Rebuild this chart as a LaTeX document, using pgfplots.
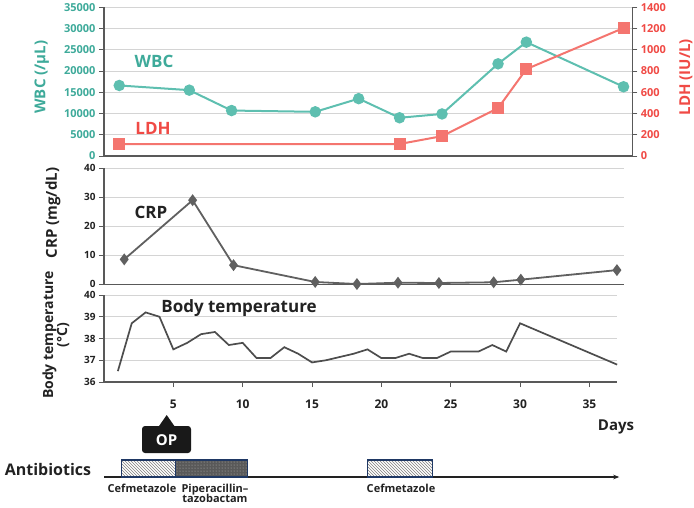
\documentclass[border=0pt]{standalone}
\usepackage{fontspec}
\setmainfont{Open Sans}
\usepackage{pgfplots}
\pgfplotsset{compat=1.18}
\usetikzlibrary{patterns,arrows.meta}
\definecolor{wbc}{HTML}{5EBFB0}
\definecolor{wbctxt}{HTML}{3EAA9A}
\definecolor{ldh}{HTML}{F4756F}
\definecolor{ldhtxt}{HTML}{F04A45}
\definecolor{axgray}{HTML}{595959}
\definecolor{gridc}{HTML}{D4D4D4}
\definecolor{crpc}{HTML}{606060}
\definecolor{tempc}{HTML}{4D4D4D}
\definecolor{navy}{HTML}{1F3864}
\definecolor{txt}{HTML}{222222}
\newcommand{\fs}[1]{\bfseries\fontsize{#1}{#1}\selectfont}
\begin{document}
\begin{tikzpicture}
\useasboundingbox (0pt,0pt) rectangle (694pt,-507pt);
\pgfplotsset{
  every axis/.append style={
    scale only axis, clip=false,
    scaled ticks=false,
    /pgf/number format/assume math mode=true,
    /pgf/number format/1000 sep={},
    tick style={axgray, line width=1pt},
    axis line style={axgray, line width=1.5pt, -},
    major grid style={gridc, line width=0.8pt},
    tick align=outside, major tick length=5pt,
  },
  every axis y label/.style={rotate=90, anchor=center, align=center},
}
% ---------- top panel: WBC ----------
\begin{axis}[
  at={(104pt,-156pt)}, anchor=south west,
  width=528.3pt, height=148.7pt,
  xmin=0, xmax=38.09, ymin=0, ymax=35000,
  axis x line*=bottom, axis y line*=left,
  xtick=\empty, ytick={0,5000,...,35000},
  ymajorgrids,
  yticklabel style={font=\fs{11}, text=wbctxt},
  ylabel={WBC (/μL)},
  every axis y label/.append style={at={(axis description cs:-0.118,0.53)}, font=\fs{15}, text=wbctxt},
]
\addplot[wbc, line width=2pt, mark=*, mark size=4.7pt, mark options={fill=wbc, draw=wbc}] coordinates {
(1.10,16600) (6.15,15500) (9.20,10700) (15.23,10400) (18.36,13500)
(21.31,9000) (24.37,9900) (28.41,21700) (30.45,26800) (37.46,16300)};
\end{axis}
% ---------- top panel: LDH ----------
\begin{axis}[
  at={(104pt,-156pt)}, anchor=south west,
  width=528.3pt, height=148.7pt,
  xmin=0, xmax=38.09, ymin=0, ymax=1400,
  axis y line*=right, axis x line=none,
  ytick={0,200,...,1400},
  yticklabel style={font=\fs{11}, text=ldhtxt},
  ylabel={LDH (IU/L)},
  every axis y label/.append style={at={(axis description cs:1.1017,0.53)}, font=\fs{15}, text=ldhtxt},
]
\addplot[ldh, line width=2pt, mark=square*, mark size=5pt, mark options={fill=ldh, draw=ldh}] coordinates {
(1.10,113) (21.31,113) (24.37,187) (28.41,450) (30.45,818) (37.46,1205)};
\end{axis}
% ---------- CRP panel ----------
\begin{axis}[
  at={(104pt,-284.3pt)}, anchor=south west,
  width=520pt, height=116pt,
  xmin=0, xmax=37.5, ymin=0, ymax=40,
  axis x line*=bottom, axis y line*=left,
  xtick=\empty, ytick={0,10,...,40},
  ymajorgrids,
  yticklabel style={font=\fs{10}, text=txt},
  ylabel={CRP (mg/dL)},
  every axis y label/.append style={at={(axis description cs:-0.098,0.615)}, font=\fs{15}, text=txt},
]
\addplot[crpc, line width=1.8pt, mark=diamond*, mark size=4.5pt, mark options={fill=crpc, draw=crpc}] coordinates {
(1.46,8.6) (6.39,29.0) (9.34,6.6) (15.23,0.8) (18.24,0.1) (21.2,0.55)
(24.15,0.45) (28.1,0.7) (30.06,1.6) (36.99,4.9)};
\end{axis}
% ---------- Body temperature panel ----------
\begin{axis}[
  at={(104pt,-382pt)}, anchor=south west,
  width=512.6pt, height=87pt,
  xmin=0, xmax=36.96, ymin=36, ymax=40,
  axis x line*=bottom, axis y line*=left,
  xtick={5,10,...,35}, ytick={36,37,...,40},
  ymajorgrids,
  yticklabel style={font=\fs{10}, text=txt},
  xticklabel style={font=\fs{12}, text=txt, yshift=-9pt},
  ylabel={Body temperature\\(°C)},
  every axis y label/.append style={at={(axis description cs:-0.0936,0.54)}, font=\fs{14}, text=txt},
]
\addplot[tempc, line width=1.7pt] coordinates {
(1,36.5) (2,38.7) (3,39.2) (4,39.0) (5,37.5) (6,37.8) (7,38.2) (8,38.3)
(9,37.7) (10,37.8) (11,37.1) (12,37.1) (13,37.6) (14,37.3) (15,36.9)
(16,37.0) (17,37.15) (18,37.3) (19,37.5) (20,37.1) (21,37.1) (22,37.3)
(23,37.1) (24,37.1) (25,37.4) (26,37.4) (27,37.4) (28,37.7) (29,37.4)
(30,38.7) (37,36.8)};
\end{axis}
% ---------- Antibiotics ----------
\begin{axis}[
  at={(104pt,-477pt)}, anchor=south west,
  width=513.2pt, height=17pt,
  xmin=0, xmax=37, ymin=0, ymax=1,
  hide axis,
]
\draw[txt, line width=1.1pt, -{Stealth[length=6pt]}] (axis cs:0,0) -- (axis cs:37.15,0);
\addplot[draw=navy, line width=1.1pt, fill=white, postaction={pattern=north west lines, pattern color=gray}] coordinates {(1.25,1) (5.18,1)} \closedcycle;
\addplot[draw=navy, line width=1.1pt, fill=black!65, postaction={pattern=dots, pattern color=gray!55}] coordinates {(5.18,1) (10.37,1)} \closedcycle;
\addplot[draw=navy, line width=1.1pt, fill=white, postaction={pattern=north west lines, pattern color=gray}] coordinates {(19.02,1) (23.70,1)} \closedcycle;
\end{axis}
% ---------- text annotations ----------
\node[font=\fs{17}, text=wbctxt] at (154pt,-61pt) {WBC};
\node[font=\fs{17}, text=ldhtxt] at (153pt,-128pt) {LDH};
\node[font=\fs{17}, text=txt] at (151pt,-212pt) {CRP};
\node[font=\fs{17}, text=txt] at (239pt,-308pt) {Body temperature};
\node[font=\fs{15}, text=txt] at (616pt,-427pt) {Days};
\node[font=\fs{16}, text=txt] at (48pt,-469pt) {Antibiotics};
\node[font=\fs{11}, text=txt] at (142pt,-488pt) {Cefmetazole};
\node[font=\fs{11}, text=txt, align=center] at (215pt,-493pt) {Piperacillin–\\[-1pt]tazobactam};
\node[font=\fs{11}, text=txt] at (401pt,-488pt) {Cefmetazole};
\fill[black!90, rounded corners=3pt] (142pt,-426pt) rectangle (191pt,-453pt);
\fill[black!90] (158.7pt,-426.5pt) -- (166.7pt,-415pt) -- (174.7pt,-426.5pt) -- cycle;
\node[font=\fs{15}, text=white] at (166.5pt,-440pt) {OP};
\end{tikzpicture}
\end{document}
